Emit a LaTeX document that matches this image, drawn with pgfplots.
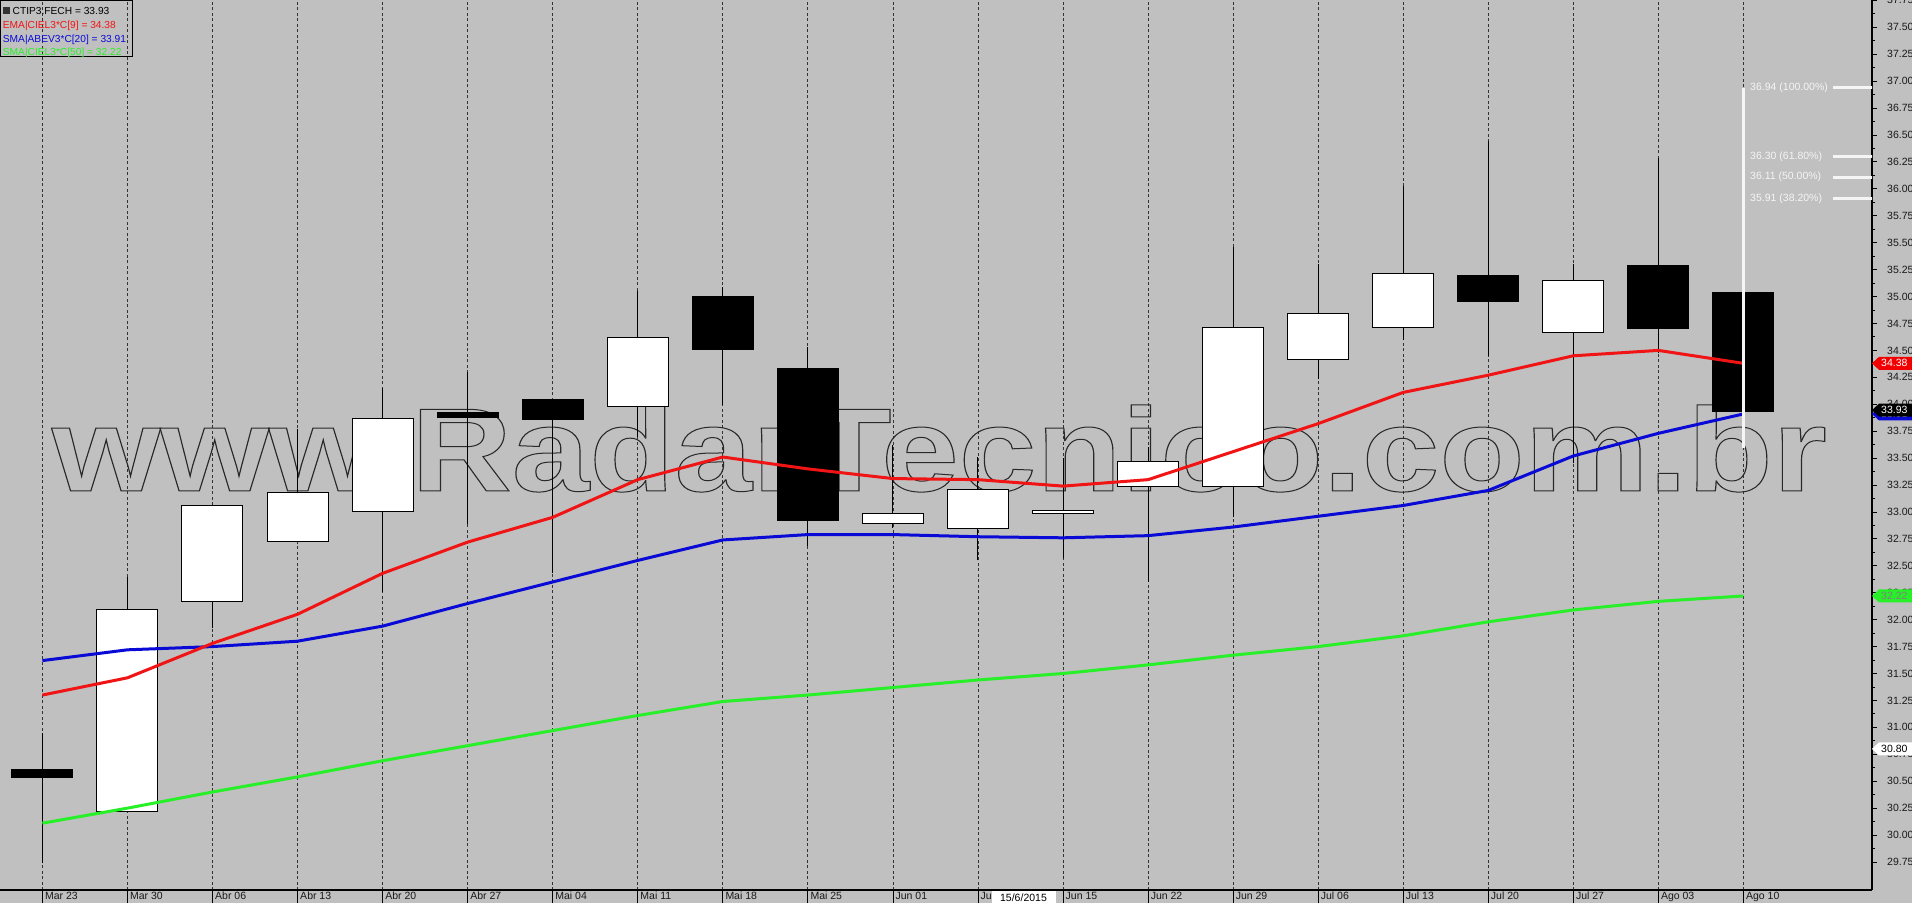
\documentclass[border=0pt]{standalone}
\usepackage{fontspec}
\setmainfont{Liberation Sans}
\usepackage{pgfplots}
\usepackage{pgfplotstable}
\pgfplotsset{compat=1.18}
\definecolor{bg}{RGB}{192,192,192}
\definecolor{emared}{RGB}{240,20,20}
\definecolor{smablue}{RGB}{10,10,215}
\definecolor{smagreen}{RGB}{40,240,40}
\definecolor{fibw}{RGB}{245,245,245}

\pgfplotstableread{
x o h l c e s20 s50
0 30.61 30.95 29.74 30.53 31.30 31.62 30.11
1 30.22 32.40 30.22 32.09 31.46 31.72 30.25
2 32.17 33.06 31.92 33.06 31.78 31.75 30.40
3 32.73 33.77 32.73 33.18 32.05 31.80 30.54
4 33.00 34.15 32.26 33.87 32.43 31.94 30.69
5 33.92 34.30 32.89 33.88 32.72 32.15 30.83
6 34.04 34.04 32.43 33.86 32.95 32.35 30.97
7 33.98 35.05 33.70 34.62 33.30 32.55 31.11
8 35.00 35.09 33.99 34.51 33.51 32.74 31.24
9 34.33 34.53 32.68 32.92 33.40 32.79 31.30
10 32.89 33.62 32.85 32.99 33.31 32.79 31.37
11 32.85 33.51 32.55 33.21 33.30 32.77 31.44
12 32.99 33.50 32.57 33.01 33.24 32.76 31.50
13 33.24 33.60 32.35 33.47 33.30 32.78 31.58
14 33.24 35.46 32.95 34.71 33.56 32.86 31.67
15 34.42 35.30 34.23 34.84 33.82 32.96 31.75
16 34.71 36.03 34.60 35.21 34.11 33.06 31.85
17 35.20 36.44 34.45 34.95 34.27 33.20 31.98
18 34.67 35.30 33.45 35.15 34.45 33.52 32.09
19 35.29 36.29 34.48 34.70 34.50 33.73 32.17
20 35.04 35.04 33.93 33.93 34.38 33.91 32.22
}\data

\pgfplotsset{base/.style={scale only axis, width=1872pt, height=890pt,
  at={(0pt,0pt)}, anchor=north west,
  xmin=-0.4985, xmax=21.512, ymin=29.4898, ymax=37.7535}}

\newcommand\pricetag[4]{%
  \fill[#2] (#1) -- ++(7pt,6.5pt) -- ++(33pt,0) -- ++(0,-13pt) -- ++(-33pt,0) -- cycle;
  \node[anchor=west, text=#3, inner sep=0pt, font=\fontsize{10.5}{12}\selectfont] at ([xshift=9pt]#1) {#4};}

\begin{document}
\begin{tikzpicture}
\useasboundingbox (0,0) rectangle (1912pt,-903pt);
\fill[bg] (0,0) rectangle (1912pt,-903pt);

% axis A: grid, watermark, wicks, date axis
\begin{axis}[base,
  axis x line*=bottom, axis y line=none,
  x axis line style={-, line width=1.6pt, black},
  xtick={0,...,20},
  xticklabels={Mar 23,Mar 30,Abr 06,Abr 13,Abr 20,Abr 27,Mai 04,Mai 11,Mai 18,Mai 25,Jun 01,Jun 08,Jun 15,Jun 22,Jun 29,Jul 06,Jul 13,Jul 20,Jul 27,Ago 03,Ago 10},
  xmajorgrids, grid style={black!80, dash pattern=on 3pt off 2.5pt, line width=0.8pt},
  major tick length=13pt, tick align=outside,
  xtick style={black, line width=0.8pt},
  xticklabel style={font=\fontsize{10.5}{12}\selectfont, text=black!90, anchor=north west, inner sep=0pt, xshift=2.5pt, yshift=11pt},
  ytick=\empty]
\node[anchor=base west, inner sep=0pt, text=bg] at (axis cs:0.11,33.195)
  {\scalebox{1.175}[1]{\fontsize{118.7}{120}\selectfont\bfseries\special{pdf:literal direct 0.16 0.16 0.16 RG 1 w 1 Tr}www.RadarTecnico.com.br\special{pdf:literal direct 0 Tr}}};
\addplot[draw=none, mark=none, error bars/.cd, y dir=plus, y explicit, error mark=none,
  error bar style={draw=black, solid, line width=1pt}]
  table[x=x, y=l, y error expr={\thisrow{h}-\thisrow{l}}] {\data};
\end{axis}

% axis B: candle bodies
\begin{axis}[base, hide axis, ybar stacked, bar width=61pt]
\addplot[draw=none, fill=none] table[x=x, y expr={min(\thisrow{o},\thisrow{c})}] {\data};
\addplot[fill=white, draw=black, line width=1pt] table[x=x, y expr={max(\thisrow{c}-\thisrow{o},0)}] {\data};
\addplot[fill=black, draw=black, line width=1pt] table[x=x, y expr={max(\thisrow{o}-\thisrow{c},0)}] {\data};
\end{axis}

% axis C: averages, fibonacci, price axis
\begin{axis}[base,
  axis x line=none, axis y line*=right,
  y axis line style={-, line width=1.4pt, black},
  xtick=\empty,
  ytick={29.75,30,30.25,30.5,30.75,31,31.25,31.5,31.75,32,32.25,32.5,32.75,33,33.25,33.5,33.75,34,34.25,34.5,34.75,35,35.25,35.5,35.75,36,36.25,36.5,36.75,37,37.25,37.5,37.75},
  minor y tick num=1,
  tick align=outside, major tick length=5pt, minor tick length=3pt,
  ytick style={black, line width=0.9pt},
  yticklabel style={font=\fontsize{10.5}{12}\selectfont, text=black!90, anchor=west, inner sep=0pt, xshift=10pt},
  yticklabel={\pgfmathprintnumber[fixed, fixed zerofill, precision=2, assume math mode=true]{\tick}}]
\addplot[smagreen, line width=3pt] table[x=x, y=s50] {\data};
\addplot[smablue, line width=3pt] table[x=x, y=s20] {\data};
\addplot[emared, line width=3pt] table[x=x, y=e] {\data};
\addplot[fibw, line width=3pt] coordinates {(20,36.94) (20,33.59)};
\addplot[fibw, line width=3pt] coordinates {(21.053,36.94) (21.6,36.94)};
\addplot[fibw, line width=3pt] coordinates {(21.053,36.30) (21.6,36.30)};
\addplot[fibw, line width=3pt] coordinates {(21.053,36.11) (21.6,36.11)};
\addplot[fibw, line width=3pt] coordinates {(21.053,35.91) (21.6,35.91)};
\node[anchor=west, inner sep=0pt, text=fibw, font=\fontsize{10.5}{12}\selectfont] at (axis cs:20.078,36.94) {36.94 (100.00\%)};
\node[anchor=west, inner sep=0pt, text=fibw, font=\fontsize{10.5}{12}\selectfont] at (axis cs:20.078,36.30) {36.30 (61.80\%)};
\node[anchor=west, inner sep=0pt, text=fibw, font=\fontsize{10.5}{12}\selectfont] at (axis cs:20.078,36.11) {36.11 (50.00\%)};
\node[anchor=west, inner sep=0pt, text=fibw, font=\fontsize{10.5}{12}\selectfont] at (axis cs:20.078,35.91) {35.91 (38.20\%)};
\coordinate (tE) at (axis cs:21.512,34.38);
\coordinate (tC) at (axis cs:21.512,33.945);
\coordinate (tB) at (axis cs:21.512,33.91);
\coordinate (tG) at (axis cs:21.512,32.22);
\coordinate (tW) at (axis cs:21.512,30.80);
\end{axis}

% price tags on the price axis
\pricetag{tE}{red!95!black}{white}{34.38}
\pricetag{tB}{smablue}{white}{33.91}
\pricetag{tC}{black}{white}{33.93}
\pricetag{tG}{smagreen}{black!50}{32.22}
\pricetag{tW}{white}{black}{30.80}

% legend
\draw[black, line width=1.3pt] (0.6pt,-0.6pt) rectangle (132.5pt,-56.5pt);
\fill[black!80] (2.5pt,-6.5pt) rectangle (9.5pt,-14pt);
\begin{scope}[every node/.style={anchor=base west, inner sep=0pt, font=\fontsize{10.2}{12}\selectfont}]
\node[text=black] at (12.5pt,-14pt) {CTIP3.FECH = 33.93};
\node[text=emared] at (2.7pt,-28pt) {EMA|CIEL3*C[9] = 34.38};
\node[text=smablue] at (2.7pt,-42pt) {SMA|ABEV3*C[20] = 33.91};
\node[text=smagreen] at (2.7pt,-55.5pt) {SMA|CIEL3*C[50] = 32.22};
\end{scope}

% cursor date box
\fill[white] (991.5pt,-891pt) rectangle (1055.5pt,-903pt);
\node[anchor=base, inner sep=0pt, font=\fontsize{10.5}{12}\selectfont] at (1023.5pt,-901pt) {15/6/2015};
\end{tikzpicture}
\end{document}
